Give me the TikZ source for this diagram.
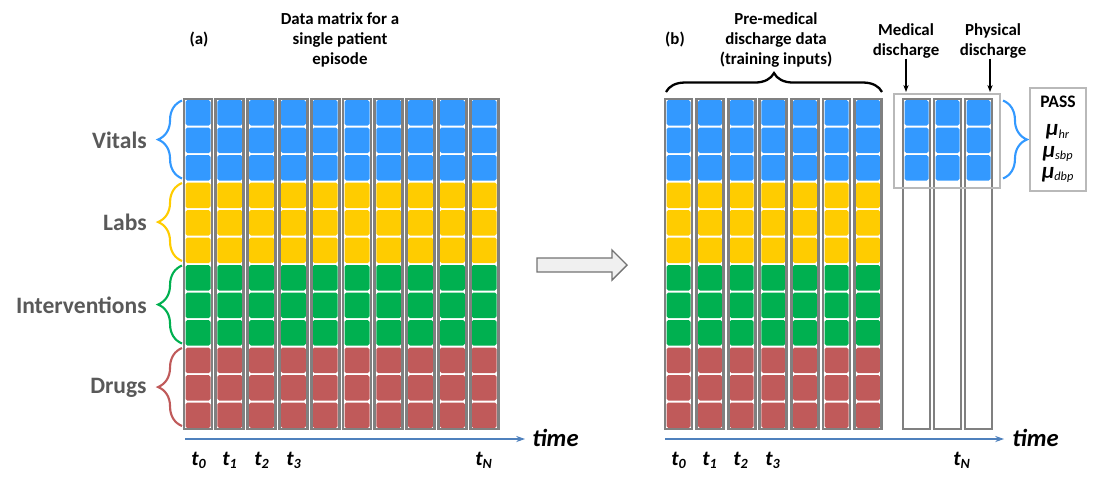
\documentclass[tikz,border=0pt]{standalone}
\usepackage{fontspec}
\setmainfont{Carlito}
\usetikzlibrary{arrows.meta, decorations.pathreplacing}

\definecolor{vitalblue}{HTML}{3399FF}
\definecolor{labyellow}{HTML}{FFCC00}
\definecolor{intgreen}{HTML}{00B050}
\definecolor{drugred}{HTML}{C05A5A}
\definecolor{labelgray}{HTML}{595959}
\definecolor{colgray}{HTML}{808080}
\definecolor{axisblue}{HTML}{4F81BD}

\newcommand{\passmu}[1]{{\fontsize{13}{11.3}\selectfont\bfseries\itshape μ}\textsubscript{\itshape #1}}
\newcommand{\tstep}[1]{t\textsubscript{#1}}

\begin{document}
\begin{tikzpicture}[
			x=0.02cm, y=-0.02cm,
			catlabel/.style={font=\fontsize{13.4}{16}\selectfont\bfseries, text=labelgray, anchor=east, inner sep=0pt},
			heading/.style={font=\fontsize{9.6}{11.4}\selectfont\bfseries, align=center, inner sep=0pt},
			tick/.style={font=\fontsize{12}{14}\selectfont\bfseries\itshape, inner sep=0pt},
			timelabel/.style={font=\fontsize{14}{16}\selectfont\bfseries\itshape, anchor=west, inner sep=0pt},
			colbox/.style={draw=colgray, line width=1.6pt},
			cell/.style={rounded corners=1pt},
			grpbrace/.style={decorate, decoration={brace, amplitude=13.6pt}, line width=1.2pt},
			axis/.style={-{Stealth[length=5pt, width=3.5pt]}, draw=axisblue, line width=0.6pt},
			arrow/.style={-{Stealth[length=4pt, width=3pt]}, line width=0.6pt},
			thinbox/.style={draw=gray!55, line width=0.6pt}
			]
			
			\useasboundingbox (0,0) rectangle (1112,488);
			
			% (a) full data matrix
			\node[heading] (labela) at (199,40) {(a)};
			\node[heading] (titlea) at (340,40) {Data matrix for a\\single patient\\episode};
			
			\foreach \i in {0,...,9} {
				\pgfmathsetmacro{\xl}{184+31.8*\i}
				\foreach \r/\c in {0/vitalblue,1/vitalblue,2/vitalblue,3/labyellow,4/labyellow,5/labyellow,6/intgreen,7/intgreen,8/intgreen,9/drugred,10/drugred,11/drugred}
					\fill[\c, cell] (\xl+1.5, 99+27.5*\r+1) rectangle (\xl+26.5, 99+27.5*\r+26.5);
				\draw[colbox] (\xl,99) rectangle (\xl+28,429);
			}
			
			\draw[grpbrace, vitalblue] (182,178.5) -- (182,100.5);
			\draw[grpbrace, labyellow] (182,261) -- (182,183);
			\draw[grpbrace, intgreen] (182,343.5) -- (182,265.5);
			\draw[grpbrace, drugred] (182,426) -- (182,348);
			
			\node[catlabel] (vitals) at (147,140) {Vitals};
			\node[catlabel] (labs) at (147,222) {Labs};
			\node[catlabel] (interv) at (147,305) {Interventions};
			\node[catlabel] (drugs) at (147,388) {Drugs};
			
			\coordinate (tstarta) at (185,439);
			\coordinate (tenda) at (525,439);
			\draw[axis] (tstarta) -- (tenda);
			\node[timelabel] (timea) at (532,438) {time};
			\node[tick] (ta0) at (199,460) {\tstep{0}};
			\node[tick] (ta1) at (230,460) {\tstep{1}};
			\node[tick] (ta2) at (262,460) {\tstep{2}};
			\node[tick] (ta3) at (294,460) {\tstep{3}};
			\node[tick] (taN) at (484,460) {\tstep{N}};
			
			% block arrow
			\draw[draw=gray!110, fill=gray!12, line width=0.8pt] (537,258) -- (612,258) -- (612,250) -- (627,265) -- (612,280) -- (612,272) -- (537,272) -- cycle;
			
			% (b) split at medical discharge
			\node[heading] (labelb) at (675,40) {(b)};
			\node[heading] (titleb) at (776,40) {Pre-medical\\discharge data\\(training inputs)};
			\draw[decorate, decoration={brace, amplitude=10.8pt}, line width=1.3pt] (666,92) -- (882,92);
			
			\foreach \i in {0,...,6} {
				\pgfmathsetmacro{\xl}{665+31.6*\i}
				\foreach \r/\c in {0/vitalblue,1/vitalblue,2/vitalblue,3/labyellow,4/labyellow,5/labyellow,6/intgreen,7/intgreen,8/intgreen,9/drugred,10/drugred,11/drugred}
					\fill[\c, cell] (\xl+1.5, 99+27.5*\r+1) rectangle (\xl+25.5, 99+27.5*\r+26.5);
				\draw[colbox] (\xl,99) rectangle (\xl+27,429);
			}
			
			\foreach \xl in {903,934,965} {
				\foreach \r in {0,1,2}
					\fill[vitalblue, cell] (\xl+1.5, 99+27.5*\r+1) rectangle (\xl+25.5, 99+27.5*\r+26.5);
				\draw[colbox] (\xl,99) rectangle (\xl+27,429);
			}
			\draw[thinbox] (894,94) rectangle (1000,188);
			
			\node[heading] (meddis) at (906,41) {Medical\\discharge};
			\node[heading] (physdis) at (993,41) {Physical\\discharge};
			\coordinate (medtip) at (906,92);
			\coordinate (phystip) at (990,92);
			\draw[arrow] (meddis.south) -- (medtip);
			\draw[arrow] (physdis.south -| phystip) -- (phystip);
			
			\draw[grpbrace, vitalblue] (1003,100.5) -- (1003,178.5);
			\node[thinbox, minimum width=1.12cm, minimum height=2.06cm, align=center, inner sep=0pt] (pass) at (1058,139.5) {{\fontsize{10}{11.3}\selectfont\bfseries PASS}\\[4pt]\passmu{hr}\\\passmu{sbp}\\\passmu{dbp}};
			
			\coordinate (tstartb) at (665,439);
			\coordinate (tendb) at (1004,439);
			\draw[axis] (tstartb) -- (tendb);
			\node[timelabel] (timeb) at (1012,438) {time};
			\node[tick] (tb0) at (679,460) {\tstep{0}};
			\node[tick] (tb1) at (710,460) {\tstep{1}};
			\node[tick] (tb2) at (741,460) {\tstep{2}};
			\node[tick] (tb3) at (773,460) {\tstep{3}};
			\node[tick] (tbN) at (962,460) {\tstep{N}};
		\end{tikzpicture}
\end{document}
